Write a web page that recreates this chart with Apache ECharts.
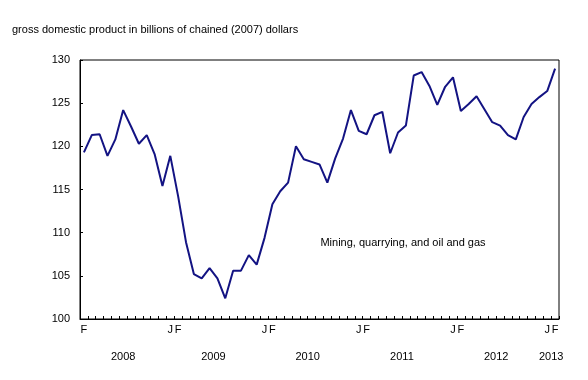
<!DOCTYPE html>
<html>
<head>
<meta charset="utf-8">
<script src="https://cdn.jsdelivr.net/npm/echarts@6/dist/echarts.min.js"></script>
<style>html,body{margin:0;padding:0;background:#fff;}#c{width:588px;height:380px;}</style>
</head>
<body>
<div id="c"></div>
<script>
// Monthly categories, Feb 2008 .. Feb 2013
var months = [
  '2008-02','2008-03','2008-04','2008-05','2008-06','2008-07','2008-08','2008-09','2008-10','2008-11','2008-12',
  '2009-01','2009-02','2009-03','2009-04','2009-05','2009-06','2009-07','2009-08','2009-09','2009-10','2009-11','2009-12',
  '2010-01','2010-02','2010-03','2010-04','2010-05','2010-06','2010-07','2010-08','2010-09','2010-10','2010-11','2010-12',
  '2011-01','2011-02','2011-03','2011-04','2011-05','2011-06','2011-07','2011-08','2011-09','2011-10','2011-11','2011-12',
  '2012-01','2012-02','2012-03','2012-04','2012-05','2012-06','2012-07','2012-08','2012-09','2012-10','2012-11','2012-12',
  '2013-01','2013-02'
];
// GDP, mining, quarrying, and oil and gas (billions of chained 2007 dollars)
var gdpMining = [
  119.3,121.3,121.4,118.9,120.8,124.2,122.3,120.3,121.3,119.1,115.4,
  118.9,114.2,108.9,105.2,104.7,105.9,104.7,102.4,105.6,105.6,107.4,106.3,
  109.4,113.3,114.8,115.8,120.0,118.5,118.2,117.9,115.8,118.6,120.9,124.2,
  121.8,121.4,123.6,124.0,119.2,121.6,122.4,128.2,128.6,127.0,124.8,126.9,
  128.0,124.1,124.9,125.8,124.3,122.8,122.4,121.3,120.8,123.4,124.9,125.7,
  126.4,129.0
];
var years = ['2008','2009','2010','2011','2012','2013'];
var yTicks = [100,105,110,115,120,125,130];
var monthLetters = {'01':'J','02':'F'};
var titleText = 'gross domestic product in billions of chained (2007) dollars';
var seriesLabel = 'Mining, quarrying, and oil and gas';

// year label positions: centre of each year's months on the category scale
var yearPos = years.map(function (y) {
  var idx = [];
  months.forEach(function (m, i) { if (m.slice(0, 4) === y) idx.push(i); });
  return (idx[0] + idx[idx.length - 1]) / 2;
});

var font = 'Liberation Sans, Arial, sans-serif';
var chart = echarts.init(document.getElementById('c'), null, {renderer: 'canvas'});
chart.setOption({
  animation: false,
  backgroundColor: '#fff',
  grid: {left: 80, top: 60, width: 479, height: 259, show: true, borderColor: '#000', borderWidth: 1, backgroundColor: 'transparent'},
  graphic: [
    {type: 'text', left: 12, top: 24, style: {text: titleText, fontSize: 11, fontFamily: font, fill: '#000'}},
    {type: 'text', x: 403, y: 243, style: {text: seriesLabel, fontSize: 11, fontFamily: font, fill: '#000', align: 'center', verticalAlign: 'middle'}}
  ],
  xAxis: [
    {
      type: 'category', data: months, boundaryGap: true,
      axisLine: {onZero: false, lineStyle: {color: '#000', width: 1}},
      axisTick: {show: true, inside: true, length: 3, interval: 0, lineStyle: {color: '#000'}},
      axisLabel: {
        interval: function (i, v) { return i === 0 || monthLetters[v.slice(5)] !== undefined; },
        formatter: function (v) { return monthLetters[v.slice(5)] || ''; },
        color: '#000', fontSize: 11, fontFamily: font, margin: 5
      },
      splitLine: {show: false}
    },
    {
      type: 'value', min: -0.5, max: months.length - 0.5, position: 'bottom', offset: 0,
      axisLine: {show: false, onZero: false}, axisTick: {show: false}, splitLine: {show: false},
      axisLabel: {
        customValues: yearPos,
        formatter: function (v) { var k = yearPos.indexOf(v); return k >= 0 ? years[k] : ''; },
        color: '#000', fontSize: 11, fontFamily: font, margin: 32
      }
    }
  ],
  yAxis: {
    type: 'value', min: yTicks[0], max: yTicks[yTicks.length - 1], interval: 5,
    axisLine: {show: true, onZero: false, lineStyle: {color: '#000', width: 1}},
    axisTick: {show: true, inside: true, length: 3, lineStyle: {color: '#000'}},
    axisLabel: {color: '#000', fontSize: 11, fontFamily: font, margin: 10},
    splitLine: {show: false}
  },
  series: [{
    type: 'line', data: gdpMining, xAxisIndex: 0, showSymbol: false,
    lineStyle: {color: '#131383', width: 2}, itemStyle: {color: '#131383'}
  }]
});
</script>
</body>
</html>
